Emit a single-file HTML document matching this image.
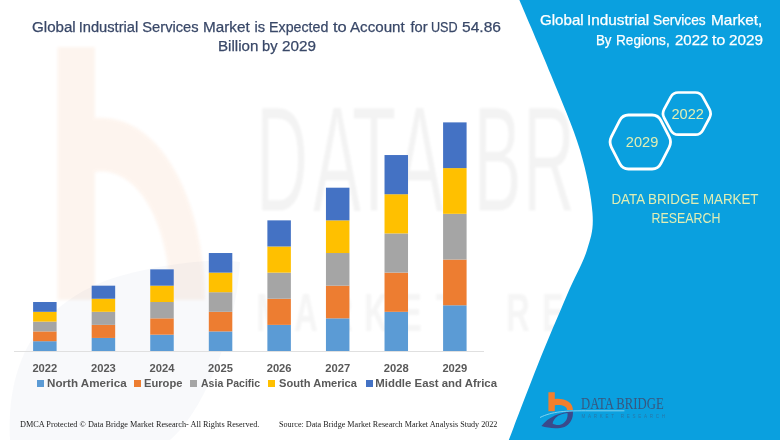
<!DOCTYPE html>
<html><head><meta charset="utf-8">
<style>
html,body{margin:0;padding:0;}
body{width:780px;height:440px;overflow:hidden;position:relative;background:#fff;font-family:"Liberation Sans",sans-serif;}
.abs{position:absolute;white-space:pre;}
#bg{position:absolute;left:0;top:0;}
.title{color:#394868;font-size:14.7px;line-height:16px;-webkit-text-stroke:0.25px #394868;}
.rt{color:#fff;font-size:14.4px;line-height:16px;-webkit-text-stroke:0.25px #fff;}
.yr{color:#595959;font-weight:bold;font-size:11.2px;line-height:12px;}
.lg{color:#595959;font-weight:bold;font-size:11.4px;line-height:12px;}
.mk{position:absolute;width:7px;height:7px;}
.ft{font-family:"Liberation Serif",serif;font-size:8.15px;color:#1a1a1a;line-height:10px;}
.yel{color:#E0EEB4;}
</style></head>
<body>
<svg id="bg" width="780" height="440" viewBox="0 0 780 440">
  <g opacity="0.075" filter="url(#bl2)">
    <path d="M57.5,47 L95,47 L95,118 C160,112 205,200 205,300 L170,300 C170,220 135,165 95,172 L95,300 L57.5,300 Z" fill="#ED7D31"/>
  </g>
  <defs><filter id="bl2" x="-10%" y="-10%" width="120%" height="120%"><feGaussianBlur stdDeviation="1.5"/></filter><filter id="bl" x="-10%" y="-10%" width="120%" height="120%"><feGaussianBlur stdDeviation="0.9"/></filter></defs>
  <g filter="url(#bl)"><text transform="translate(282,211) scale(0.48,1)" text-anchor="middle" font-size="150" font-family="Liberation Sans" fill="#F3F3F3" stroke="#fff" stroke-width="1.2">D</text><text transform="translate(337,211) scale(0.48,1)" text-anchor="middle" font-size="150" font-family="Liberation Sans" fill="#F3F3F3" stroke="#fff" stroke-width="1.2">A</text><text transform="translate(374,211) scale(0.48,1)" text-anchor="middle" font-size="150" font-family="Liberation Sans" fill="#F3F3F3" stroke="#fff" stroke-width="1.2">T</text><text transform="translate(419.5,211) scale(0.48,1)" text-anchor="middle" font-size="150" font-family="Liberation Sans" fill="#F3F3F3" stroke="#fff" stroke-width="1.2">A</text><text transform="translate(497.5,211) scale(0.48,1)" text-anchor="middle" font-size="150" font-family="Liberation Sans" fill="#F3F3F3" stroke="#fff" stroke-width="1.2">B</text><text transform="translate(549,211) scale(0.48,1)" text-anchor="middle" font-size="150" font-family="Liberation Sans" fill="#F3F3F3" stroke="#fff" stroke-width="1.2">R</text><text transform="translate(596,211) scale(0.48,1)" text-anchor="middle" font-size="150" font-family="Liberation Sans" fill="#F3F3F3" stroke="#fff" stroke-width="1.2">I</text><text transform="translate(636,211) scale(0.48,1)" text-anchor="middle" font-size="150" font-family="Liberation Sans" fill="#F3F3F3" stroke="#fff" stroke-width="1.2">D</text><text transform="translate(692,211) scale(0.48,1)" text-anchor="middle" font-size="150" font-family="Liberation Sans" fill="#F3F3F3" stroke="#fff" stroke-width="1.2">G</text><text transform="translate(750,211) scale(0.48,1)" text-anchor="middle" font-size="150" font-family="Liberation Sans" fill="#F3F3F3" stroke="#fff" stroke-width="1.2">E</text><text transform="translate(270,331) scale(0.6,1)" text-anchor="middle" font-size="54" font-weight="bold" font-family="Liberation Sans" fill="#F5F5F5">M</text><text transform="translate(306,331) scale(0.6,1)" text-anchor="middle" font-size="54" font-weight="bold" font-family="Liberation Sans" fill="#F5F5F5">A</text><text transform="translate(341,331) scale(0.6,1)" text-anchor="middle" font-size="54" font-weight="bold" font-family="Liberation Sans" fill="#F5F5F5">R</text><text transform="translate(376,331) scale(0.6,1)" text-anchor="middle" font-size="54" font-weight="bold" font-family="Liberation Sans" fill="#F5F5F5">K</text><text transform="translate(411,331) scale(0.6,1)" text-anchor="middle" font-size="54" font-weight="bold" font-family="Liberation Sans" fill="#F5F5F5">E</text><text transform="translate(446,331) scale(0.6,1)" text-anchor="middle" font-size="54" font-weight="bold" font-family="Liberation Sans" fill="#F5F5F5">T</text><text transform="translate(518,331) scale(0.6,1)" text-anchor="middle" font-size="54" font-weight="bold" font-family="Liberation Sans" fill="#F5F5F5">R</text><text transform="translate(553,331) scale(0.6,1)" text-anchor="middle" font-size="54" font-weight="bold" font-family="Liberation Sans" fill="#F5F5F5">E</text><text transform="translate(588,331) scale(0.6,1)" text-anchor="middle" font-size="54" font-weight="bold" font-family="Liberation Sans" fill="#F5F5F5">S</text><text transform="translate(623,331) scale(0.6,1)" text-anchor="middle" font-size="54" font-weight="bold" font-family="Liberation Sans" fill="#F5F5F5">E</text><text transform="translate(658,331) scale(0.6,1)" text-anchor="middle" font-size="54" font-weight="bold" font-family="Liberation Sans" fill="#F5F5F5">A</text><text transform="translate(693,331) scale(0.6,1)" text-anchor="middle" font-size="54" font-weight="bold" font-family="Liberation Sans" fill="#F5F5F5">R</text><text transform="translate(728,331) scale(0.6,1)" text-anchor="middle" font-size="54" font-weight="bold" font-family="Liberation Sans" fill="#F5F5F5">C</text><text transform="translate(763,331) scale(0.6,1)" text-anchor="middle" font-size="54" font-weight="bold" font-family="Liberation Sans" fill="#F5F5F5">H</text></g>
  <path d="M10,440 C6,370 32,302 120,276 C165,263 215,258 240,262 C236,330 205,410 170,440 Z" fill="#3A4A8C" opacity="0.035"/>
  <path d="M519.4,0 C524.7,12.5 540.9,50.0 551.0,75.0 C561.1,100.0 573.1,127.0 580.0,150.0 C586.9,173.0 591.3,196.3 592.5,213.0 C593.7,229.7 591.2,236.3 587.0,250.0 C582.8,263.7 575.2,275.8 567.0,295.0 C558.8,314.2 547.4,340.8 537.7,365.0 C528.0,389.2 513.6,427.5 508.8,440.0 L780,440 L780,0 Z" fill="#0AA0DF"/>
  <path d="M611.43,147.34 Q608.70,142.00 611.43,136.66 L619.77,120.34 Q622.50,115.00 628.50,115.00 L652.10,115.00 Q658.10,115.00 660.83,120.34 L669.17,136.66 Q671.90,142.00 669.17,147.34 L660.83,163.66 Q658.10,169.00 652.10,169.00 L628.50,169.00 Q622.50,169.00 619.77,163.66 Z" fill="none" stroke="#fff" stroke-width="2.8"/>
  <path d="M664.18,118.00 Q661.80,113.60 664.18,109.20 L670.82,96.90 Q673.20,92.50 678.20,92.50 L695.40,92.50 Q700.40,92.50 702.78,96.90 L709.42,109.20 Q711.80,113.60 709.42,118.00 L702.78,130.30 Q700.40,134.70 695.40,134.70 L678.20,134.70 Q673.20,134.70 670.82,130.30 Z" fill="none" stroke="#fff" stroke-width="2.7"/>
  <line x1="14" y1="351.5" x2="484" y2="351.5" stroke="#E0E0E0" stroke-width="1"/>
  <rect x="33.10" y="341.20" width="23.5" height="9.80" fill="#5B9BD5"/>
<rect x="33.10" y="331.40" width="23.5" height="9.80" fill="#ED7D31"/>
<rect x="33.10" y="321.61" width="23.5" height="9.80" fill="#A5A5A5"/>
<rect x="33.10" y="311.81" width="23.5" height="9.80" fill="#FFC000"/>
<rect x="33.10" y="302.01" width="23.5" height="9.80" fill="#4472C4"/>
<rect x="91.67" y="337.94" width="23.5" height="13.06" fill="#5B9BD5"/>
<rect x="91.67" y="324.87" width="23.5" height="13.06" fill="#ED7D31"/>
<rect x="91.67" y="311.81" width="23.5" height="13.06" fill="#A5A5A5"/>
<rect x="91.67" y="298.74" width="23.5" height="13.06" fill="#FFC000"/>
<rect x="91.67" y="285.68" width="23.5" height="13.06" fill="#4472C4"/>
<rect x="150.24" y="334.67" width="23.5" height="16.33" fill="#5B9BD5"/>
<rect x="150.24" y="318.34" width="23.5" height="16.33" fill="#ED7D31"/>
<rect x="150.24" y="302.01" width="23.5" height="16.33" fill="#A5A5A5"/>
<rect x="150.24" y="285.68" width="23.5" height="16.33" fill="#FFC000"/>
<rect x="150.24" y="269.35" width="23.5" height="16.33" fill="#4472C4"/>
<rect x="208.81" y="331.40" width="23.5" height="19.60" fill="#5B9BD5"/>
<rect x="208.81" y="311.81" width="23.5" height="19.60" fill="#ED7D31"/>
<rect x="208.81" y="292.21" width="23.5" height="19.60" fill="#A5A5A5"/>
<rect x="208.81" y="272.62" width="23.5" height="19.60" fill="#FFC000"/>
<rect x="208.81" y="253.02" width="23.5" height="19.60" fill="#4472C4"/>
<rect x="267.38" y="324.87" width="23.5" height="26.13" fill="#5B9BD5"/>
<rect x="267.38" y="298.74" width="23.5" height="26.13" fill="#ED7D31"/>
<rect x="267.38" y="272.62" width="23.5" height="26.13" fill="#A5A5A5"/>
<rect x="267.38" y="246.49" width="23.5" height="26.13" fill="#FFC000"/>
<rect x="267.38" y="220.36" width="23.5" height="26.13" fill="#4472C4"/>
<rect x="325.95" y="318.34" width="23.5" height="32.66" fill="#5B9BD5"/>
<rect x="325.95" y="285.68" width="23.5" height="32.66" fill="#ED7D31"/>
<rect x="325.95" y="253.02" width="23.5" height="32.66" fill="#A5A5A5"/>
<rect x="325.95" y="220.36" width="23.5" height="32.66" fill="#FFC000"/>
<rect x="325.95" y="187.70" width="23.5" height="32.66" fill="#4472C4"/>
<rect x="384.52" y="311.81" width="23.5" height="39.19" fill="#5B9BD5"/>
<rect x="384.52" y="272.62" width="23.5" height="39.19" fill="#ED7D31"/>
<rect x="384.52" y="233.42" width="23.5" height="39.19" fill="#A5A5A5"/>
<rect x="384.52" y="194.23" width="23.5" height="39.19" fill="#FFC000"/>
<rect x="384.52" y="155.04" width="23.5" height="39.19" fill="#4472C4"/>
<rect x="443.09" y="305.28" width="23.5" height="45.72" fill="#5B9BD5"/>
<rect x="443.09" y="259.55" width="23.5" height="45.72" fill="#ED7D31"/>
<rect x="443.09" y="213.83" width="23.5" height="45.72" fill="#A5A5A5"/>
<rect x="443.09" y="168.10" width="23.5" height="45.72" fill="#FFC000"/>
<rect x="443.09" y="122.38" width="23.5" height="45.72" fill="#4472C4"/>

  <g>
    <path d="M541.4,426.1 C548,417 560,412 572.9,411.2 C573.5,418 570.5,424 564.5,427 C558.5,429 548.5,428.5 541.4,426.1 Z" fill="#3A4A8C"/>
    <path d="M552.6,423.5 C553.5,418 559,414 567.5,413 C568,418 566,422.5 561,424.5 C558,425.5 555,425 552.6,423.5 Z" fill="#0AA0DF"/>
    <path d="M540,417.5 C552,411.5 565,410.6 590,410.8 L624.4,410.8" fill="none" stroke="#8FD8F2" stroke-width="0.9"/>
    <path d="M548.4,392.3 L554.8,392.3 L554.8,398.9 C565,398 572.9,402 572.9,410 L567,410 C567,406.5 562,404.5 554.8,405.3 L554.8,411.2 L548.4,411.2 Z" fill="#F07F2E"/>
  </g>
</svg>

<div class="abs title" style="left:31.6px;top:19px;transform:scaleX(1.03);transform-origin:0 0;">Global</div><div class="abs title" style="left:78.7px;top:19px;">Industrial</div><div class="abs title" style="left:142.3px;top:19px;">Services</div><div class="abs title" style="left:202.8px;top:19px;transform:scaleX(1.04);transform-origin:0 0;">Market</div><div class="abs title" style="left:254.4px;top:19px;">is</div><div class="abs title" style="left:269.1px;top:19px;transform:scaleX(0.97);transform-origin:0 0;">Expected</div><div class="abs title" style="left:333.0px;top:19px;transform:scaleX(1.12);transform-origin:0 0;">to</div><div class="abs title" style="left:349.9px;top:19px;transform:scaleX(1.03);transform-origin:0 0;">Account</div><div class="abs title" style="left:410.5px;top:19px;">for</div><div class="abs title" style="left:431.3px;top:19px;transform:scaleX(0.86);transform-origin:0 0;">USD</div><div class="abs title" style="left:462.0px;top:19px;transform:scaleX(1.06);transform-origin:0 0;">54.86</div>
<div class="abs title" style="left:217.5px;top:38px;transform:scaleX(1.03);transform-origin:0 0;">Billion</div><div class="abs title" style="left:262.0px;top:38px;">by</div><div class="abs title" style="left:282.0px;top:38px;transform:scaleX(1.04);transform-origin:0 0;">2029</div>

<div class="abs rt" style="left:540.4px;top:12px;transform:scaleX(1.05);transform-origin:0 0;">Global</div><div class="abs rt" style="left:587.0px;top:12px;transform:scaleX(1.066);transform-origin:0 0;">Industrial</div><div class="abs rt" style="left:652.8px;top:12px;transform:scaleX(0.955);transform-origin:0 0;">Services</div><div class="abs rt" style="left:711.3px;top:12px;transform:scaleX(1.07);transform-origin:0 0;">Market,</div>
<div class="abs rt" style="left:596.2px;top:32px;transform:scaleX(0.92);transform-origin:0 0;">By</div><div class="abs rt" style="left:615.5px;top:32px;transform:scaleX(0.945);transform-origin:0 0;">Regions,</div><div class="abs rt" style="left:675.2px;top:32px;transform:scaleX(1.04);transform-origin:0 0;">2022</div><div class="abs rt" style="left:711.9px;top:32px;transform:scaleX(1.1);transform-origin:0 0;">to</div><div class="abs rt" style="left:728.8px;top:32px;transform:scaleX(1.06);transform-origin:0 0;">2029</div>

<div class="abs yel" style="left:625.8px;top:134px;font-size:14.6px;line-height:16px;">2029</div>
<div class="abs yel" style="left:671.5px;top:106px;font-size:14.6px;line-height:16px;">2022</div>

<div class="abs yel" style="left:585.1px;top:190.5px;width:200px;text-align:center;font-size:14.5px;line-height:16px;transform:scaleX(0.92);transform-origin:100px 0;">DATA BRIDGE MARKET</div>
<div class="abs yel" style="left:586.4px;top:210.2px;width:200px;text-align:center;font-size:14.5px;line-height:16px;transform:scaleX(0.855);transform-origin:100px 0;">RESEARCH</div>

<div class="abs yr" style="left:4.85px;top:362px;width:80px;text-align:center">2022</div>
<div class="abs yr" style="left:63.42px;top:362px;width:80px;text-align:center">2023</div>
<div class="abs yr" style="left:121.99px;top:362px;width:80px;text-align:center">2024</div>
<div class="abs yr" style="left:180.56px;top:362px;width:80px;text-align:center">2025</div>
<div class="abs yr" style="left:239.13px;top:362px;width:80px;text-align:center">2026</div>
<div class="abs yr" style="left:297.70px;top:362px;width:80px;text-align:center">2027</div>
<div class="abs yr" style="left:356.27px;top:362px;width:80px;text-align:center">2028</div>
<div class="abs yr" style="left:414.84px;top:362px;width:80px;text-align:center">2029</div>


<div class="mk" style="left:36.5px;top:380.3px;background:#5B9BD5"></div>
<div class="abs lg" style="left:46.5px;top:377px;transform:scaleX(1.02);transform-origin:0 0">North America</div>
<div class="mk" style="left:134.1px;top:380.3px;background:#ED7D31"></div>
<div class="abs lg" style="left:143.5px;top:377px;transform:scaleX(0.98);transform-origin:0 0">Europe</div>
<div class="mk" style="left:190.1px;top:380.3px;background:#A5A5A5"></div>
<div class="abs lg" style="left:200.8px;top:377px;transform:scaleX(0.925);transform-origin:0 0">Asia Pacific</div>
<div class="mk" style="left:268.1px;top:380.3px;background:#FFC000"></div>
<div class="abs lg" style="left:279px;top:377px;transform:scaleX(0.975);transform-origin:0 0">South America</div>
<div class="mk" style="left:365.5px;top:380.3px;background:#4472C4"></div>
<div class="abs lg" style="left:375.3px;top:377px;">Middle East and Africa</div>

<div class="abs ft" style="left:19.7px;top:420px;transform:scaleX(1.015);transform-origin:0 0">DMCA Protected © Data Bridge Market Research- All Rights Reserved.</div>
<div class="abs ft" style="left:279px;top:420px;">Source: Data Bridge Market Research Market Analysis Study 2022</div>

<div class="abs" style="left:581.4px;top:395px;font-family:'Liberation Serif',serif;font-size:16.6px;color:#38577F;line-height:17px;transform-origin:0 0;transform:scaleX(0.766);">DATA BRIDGE</div>
<div class="abs" style="left:581.5px;top:413.5px;font-size:4.5px;letter-spacing:2.75px;color:#3D5A80;line-height:5px;opacity:0.6">MARKET RESEARCH</div>
</body></html>
